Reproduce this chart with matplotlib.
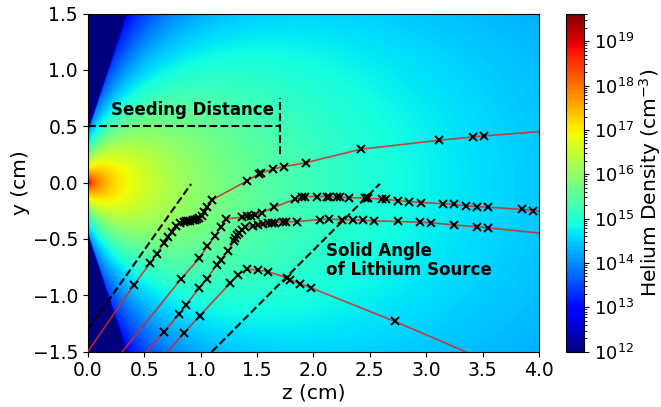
import matplotlib
matplotlib.use("Agg")

import numpy as np
import matplotlib.pyplot as plt
from matplotlib.colors import LogNorm

# trajectory samples (z, y in cm)
traj1_z = [0.0, 0.413, 0.552, 0.612, 0.679, 0.715, 0.745, 0.78, 0.82, 0.85, 0.87, 0.89,
           0.91, 0.93, 0.95, 0.97, 0.99, 1.01, 1.03, 1.06, 1.10, 1.41, 1.52, 1.535,
           1.64, 1.74, 1.935, 2.42, 3.117, 3.413, 3.513, 4.0]
traj1_y = [-1.5, -0.904, -0.715, -0.632, -0.532, -0.479, -0.434, -0.381, -0.36, -0.352,
           -0.345, -0.342, -0.338, -0.333, -0.33, -0.325, -0.318, -0.30, -0.26, -0.22,
           -0.155, 0.015, 0.08, 0.085, 0.119, 0.142, 0.177, 0.296, 0.376, 0.405, 0.414, 0.452]

traj2_z = [0.307, 0.83, 0.99, 1.06, 1.13, 1.179, 1.229, 1.365, 1.41, 1.45, 1.48, 1.543,
           1.652, 1.838, 1.897, 1.926, 2.03, 2.119, 2.14, 2.207, 2.237, 2.32, 2.46, 2.473,
           2.485, 2.606, 2.645, 2.75, 2.851, 2.95, 3.15, 3.25, 3.35, 3.449, 3.55, 3.848,
           3.95, 4.0]
traj2_y = [-1.5, -0.852, -0.67, -0.564, -0.472, -0.398, -0.322, -0.307, -0.30, -0.295,
           -0.29, -0.266, -0.218, -0.147, -0.13, -0.124, -0.124, -0.124, -0.125, -0.13,
           -0.13, -0.133, -0.137, -0.138, -0.139, -0.147, -0.149, -0.16, -0.169, -0.177,
           -0.187, -0.194, -0.205, -0.213, -0.218, -0.238, -0.248, -0.255]

traj3_z = [0.523, 0.679, 0.809, 0.869, 0.99, 1.055, 1.143, 1.179, 1.241, 1.30, 1.306,
           1.327, 1.344, 1.365, 1.394, 1.463, 1.513, 1.551, 1.601, 1.631, 1.66, 1.734,
           1.758, 1.853, 2.06, 2.14, 2.252, 2.349, 2.444, 2.539, 2.748, 2.946, 3.043,
           3.248, 3.449, 3.552, 4.0]
traj3_y = [-1.5, -1.321, -1.167, -1.09, -0.931, -0.854, -0.73, -0.685, -0.611, -0.514,
           -0.493, -0.464, -0.443, -0.419, -0.395, -0.384, -0.372, -0.366, -0.36, -0.357,
           -0.355, -0.349, -0.348, -0.346, -0.328, -0.323, -0.33, -0.332, -0.335, -0.34,
           -0.345, -0.351, -0.356, -0.376, -0.392, -0.402, -0.447]

traj4_z = [0.709, 0.857, 0.993, 1.262, 1.333, 1.413, 1.513, 1.601, 1.77, 1.794, 1.885,
           1.98, 2.724, 3.35]
traj4_y = [-1.5, -1.33, -1.182, -0.892, -0.818, -0.768, -0.777, -0.789, -0.848, -0.863,
           -0.898, -0.934, -1.232, -1.5]

trajectories = [(traj1_z, traj1_y), (traj2_z, traj2_y), (traj3_z, traj3_y), (traj4_z, traj4_y)]

# dashed guide lines
seed_z = [0.0, 1.7]
seed_y = 0.5
seed_tick = (0.25, 0.75)
cone1_z = [0.0, 0.916]
cone1_y = [-1.306, -0.012]
cone2_z = [1.1, 2.59]
cone2_y = [-1.5, -0.01]

# helium density map (simple gas jet model)
nz, ny = 800, 600
zz, yy = np.meshgrid(np.linspace(0, 4, nz), np.linspace(-1.5, 1.5, ny))
theta = np.arctan2(np.abs(yy), zz + 0.15)
r = np.sqrt(zz**2 + yy**2 + 0.012**2)
dens = 2.85e16 * r ** (-1.3) * (1 + (r / 0.4) ** 2) ** (-0.6) * np.cos(theta) ** 5
edge = np.deg2rad(71.5)
dens = dens * np.where(theta > edge, 10 ** (-(theta - edge) / 0.01), 1.0)
dens = np.clip(dens, 1e12, None)

fig = plt.figure(figsize=(6.61, 4.07), dpi=100)
ax = fig.add_axes([0.1327, 0.1359, 0.6827, 0.8309])
cax = fig.add_axes([0.857, 0.1359, 0.0266, 0.8309])

im = ax.imshow(dens, extent=[0, 4, -1.5, 1.5], origin="lower", aspect="auto",
               cmap="jet", norm=LogNorm(vmin=1e12, vmax=4.2e19), interpolation="bilinear")

for tz, ty in trajectories:
    ax.plot(tz, ty, color="#d62728", lw=1.2, alpha=0.85, zorder=3)
    ax.plot(tz[1:-1], ty[1:-1], "x", color="black", ms=5.5, mew=1.4, zorder=4)

dash = dict(color="black", ls="--", lw=1.5, zorder=5)
ax.plot(seed_z, [seed_y, seed_y], **dash)
ax.plot([seed_z[0], seed_z[0]], seed_tick, **dash)
ax.plot([seed_z[1], seed_z[1]], seed_tick, **dash)
ax.plot(cone1_z, cone1_y, **dash)
ax.plot(cone2_z, cone2_y, **dash)

ax.text(0.93, 0.645, "Seeding Distance", fontsize=12, fontweight="bold",
        ha="center", va="center", zorder=6)
ax.text(2.11, -0.69, "Solid Angle\nof Lithium Source", fontsize=12, fontweight="bold",
        ha="left", va="center", linespacing=1.05, zorder=6)

ax.set_xlim(0, 4)
ax.set_ylim(-1.5, 1.5)
ax.set_xticks(np.arange(0, 4.01, 0.5))
ax.set_yticks(np.arange(-1.5, 1.51, 0.5))
ax.tick_params(labelsize=13.5)
ax.set_xlabel("z (cm)", fontsize=14.5, labelpad=2)
ax.set_ylabel("y (cm)", fontsize=14.5, labelpad=2)

cb = fig.colorbar(im, cax=cax)
cb.set_label("Helium Density (cm$^{-3}$)", fontsize=14.5, labelpad=2)
cb.ax.tick_params(labelsize=13)

fig.savefig("out.png", dpi=100)
